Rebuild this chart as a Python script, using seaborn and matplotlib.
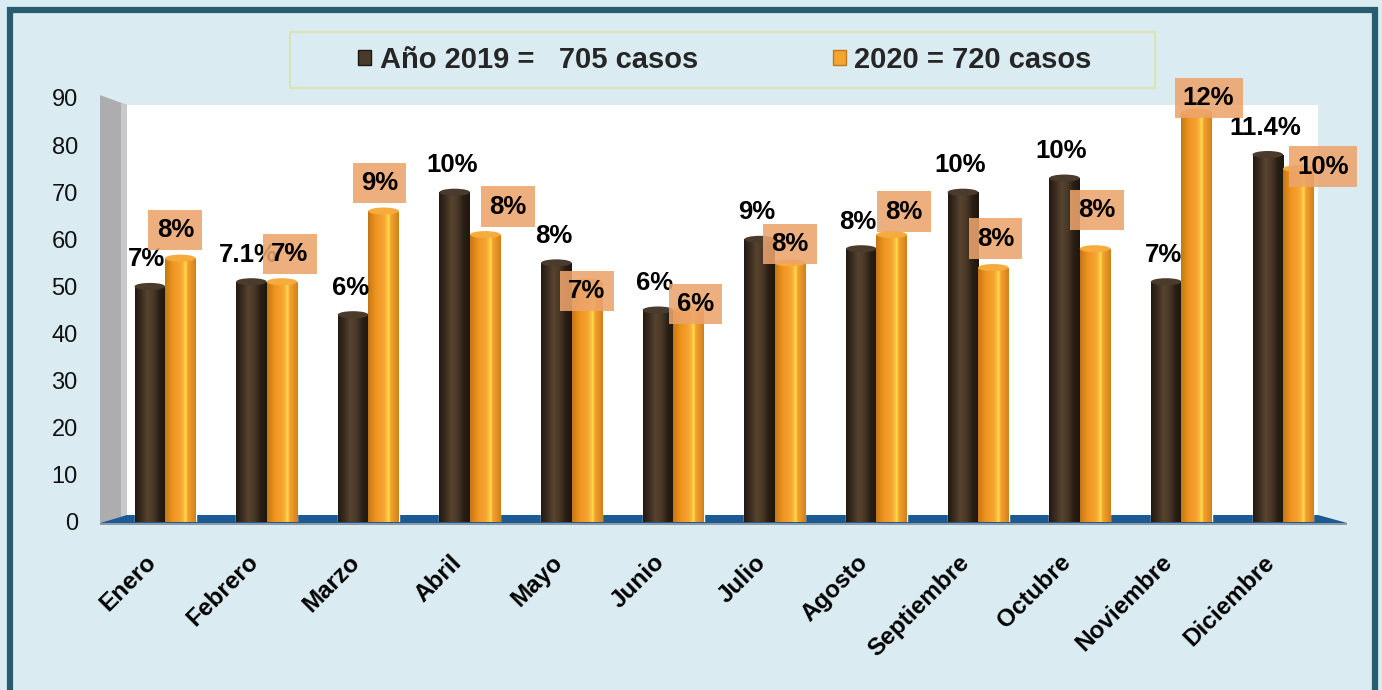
import numpy as np
import pandas as pd
import matplotlib
matplotlib.use("Agg")
import matplotlib.pyplot as plt
import seaborn as sns
from matplotlib.patches import Polygon, Rectangle, Ellipse, Patch
from matplotlib.colors import LinearSegmentedColormap

# data
meses = ["Enero", "Febrero", "Marzo", "Abril", "Mayo", "Junio", "Julio",
         "Agosto", "Septiembre", "Octubre", "Noviembre", "Diciembre"]
casos_2019 = [50, 51, 44, 70, 55, 45, 60, 58, 70, 73, 51, 78]
casos_2020 = [56, 51, 66, 61, 51, 45, 55, 61, 54, 58, 87, 75]
pct_2019 = ["7%", "7.1%", "6%", "10%", "8%", "6%", "9%", "8%", "10%", "10%", "7%", "11.4%"]
pct_2020 = ["8%", "7%", "9%", "8%", "7%", "6%", "8%", "8%", "8%", "8%", "12%", "10%"]
leyenda = ["Año 2019 =   705 casos", "2020 = 720 casos"]

# label box nudges in pixels (x, y up) relative to the top of the 2020 bar
box_dx = [-5, 8, -4, 23, 0, 7, 0, 12, 2, 2, 12, 25]
box_dy = [28, 28, 28, 28, -9, 6, 19, 23, 29, 39, 14, 2]

W, H = 1382, 690
BG = "#daecf2"

sns.set_style("white")
plt.rcParams["font.family"] = ["Liberation Sans", "DejaVu Sans"]

df = pd.DataFrame({
    "mes": meses * 2,
    "casos": casos_2019 + casos_2020,
    "anio": ["2019"] * 12 + ["2020"] * 12,
})


def fp(x, y):
    # pixel (from top-left) -> figure fraction
    return (x / W, 1 - y / H)


fig = plt.figure(figsize=(W / 100, H / 100), dpi=100, facecolor=BG)

# 3D-ish frame pieces drawn behind the axes
wall = Polygon([fp(100, 95), fp(127, 105), fp(127, 515), fp(100, 523)],
               closed=True, transform=fig.transFigure, facecolor="#adadb0",
               edgecolor="none", zorder=-3)
wall_edge = Polygon([fp(121, 103), fp(127, 105), fp(127, 515), fp(121, 517)],
                    closed=True, transform=fig.transFigure, facecolor="#c9c9cc",
                    edgecolor="none", zorder=-3)
back = Polygon([fp(127, 105), fp(1318, 105), fp(1318, 515), fp(127, 515)],
               closed=True, transform=fig.transFigure, facecolor="white",
               edgecolor="none", zorder=-3)
floor = Polygon([fp(100, 523), fp(127, 515), fp(1318, 515), fp(1347, 523)],
                closed=True, transform=fig.transFigure, facecolor="#1b5a92",
                edgecolor="none", zorder=-2)
shadow = Polygon([fp(100, 523), fp(1347, 523), fp(1347, 525), fp(100, 525)],
                 closed=True, transform=fig.transFigure, facecolor="#8c9aa3",
                 edgecolor="none", zorder=-2)
for p in [wall, wall_edge, back, floor, shadow]:
    fig.patches.append(p)

# outer border
border = Rectangle(fp(10, 700), 1365 / W, 690 / H, transform=fig.transFigure,
                   facecolor="none", edgecolor="#285d70", linewidth=4.5, zorder=5)
fig.patches.append(border)

ax = fig.add_axes([100 / W, 1 - 522 / H, 1245 / W, 424 / H])
ax.set_facecolor("none")

sns.barplot(data=df, x="mes", y="casos", hue="anio", hue_order=["2019", "2020"],
            palette=["#3e2f23", "#f29d2e"], width=0.6, saturation=1,
            legend=False, ax=ax, zorder=2)

cm_brown = LinearSegmentedColormap.from_list(
    "brown", ["#241a12", "#3a2c20", "#57442f", "#4a3928", "#2a1f15", "#1e160f"])
cm_orange = LinearSegmentedColormap.from_list(
    "orange", [(0, "#c57616"), (0.25, "#ef951f"), (0.5, "#f6a233"),
               (0.62, "#f8c03c"), (0.67, "#ffe24e"), (0.73, "#f5a431"),
               (1, "#d2801b")])
grad = np.linspace(0, 1, 64).reshape(1, -1)

bars = list(ax.patches)
tops = {}
for bar in bars:
    x0 = bar.get_x()
    w = bar.get_width()
    h = bar.get_height()
    cx = x0 + w / 2
    i = int(round(cx))
    serie = 0 if cx < i else 1
    cmap = cm_brown if serie == 0 else cm_orange
    im = ax.imshow(grad, cmap=cmap, extent=[x0, x0 + w, 0, h], aspect="auto",
                   zorder=2.1 + serie)
    im.set_clip_path(bar)
    cap_color = "#4b3b2d" if serie == 0 else "#f5ac3c"
    ax.add_patch(Ellipse((cx, h), w, 1.5, facecolor=cap_color,
                         edgecolor="none", zorder=2.2 + serie))
    tops[(i, serie)] = (cx, h)

# percentage labels
for i in range(len(meses)):
    cx, h = tops[(i, 0)]
    ax.annotate(pct_2019[i], xy=(cx, h), xytext=(-3, 27), textcoords="offset pixels",
                ha="center", va="center", fontsize=18.5, fontweight="bold",
                color="black", zorder=6, annotation_clip=False)
for i in range(len(meses)):
    cx, h = tops[(i, 1)]
    ax.annotate(pct_2020[i], xy=(cx, h), xytext=(box_dx[i], box_dy[i]),
                textcoords="offset pixels", ha="center", va="center",
                fontsize=18.5, fontweight="bold", color="black", zorder=7,
                annotation_clip=False,
                bbox=dict(boxstyle="square,pad=0.32", facecolor="#eca46c",
                          edgecolor="none", alpha=0.88))

ax.set_xlim(-0.64, 11.61)
ax.set_ylim(0, 90)
ax.set_yticks(range(0, 100, 10))
ax.tick_params(axis="y", length=0, pad=16, labelsize=17, labelcolor="#111111")
ax.set_xticks([])
ax.set_xlabel("")
ax.set_ylabel("")
sns.despine(ax=ax, left=True, bottom=True)

# month labels, rotated
for i, m in enumerate(meses):
    ax.text(i - 0.12, -7.8, m, rotation=45, rotation_mode="anchor",
            ha="right", va="center", fontsize=17.5, fontweight="bold",
            color="black", clip_on=False)

# legend
handles = [Patch(facecolor="#4a3a2c", edgecolor="#1e160f"),
           Patch(facecolor="#f2a531", edgecolor="#c37a16")]
fig.legend(handles, leyenda, loc="center", bbox_to_anchor=fp(725, 60), ncol=2,
           frameon=False, prop={"size": 21, "weight": "bold"},
           handlelength=0.45, handleheight=0.45, handletextpad=0.3,
           columnspacing=4.6)
frame = Rectangle(fp(290, 88), 865 / W, 56 / H, transform=fig.transFigure,
                  facecolor="none", edgecolor="#d9e4b4", linewidth=1.6, zorder=1)
fig.patches.append(frame)

fig.savefig("out.png", dpi=100, facecolor=BG)
